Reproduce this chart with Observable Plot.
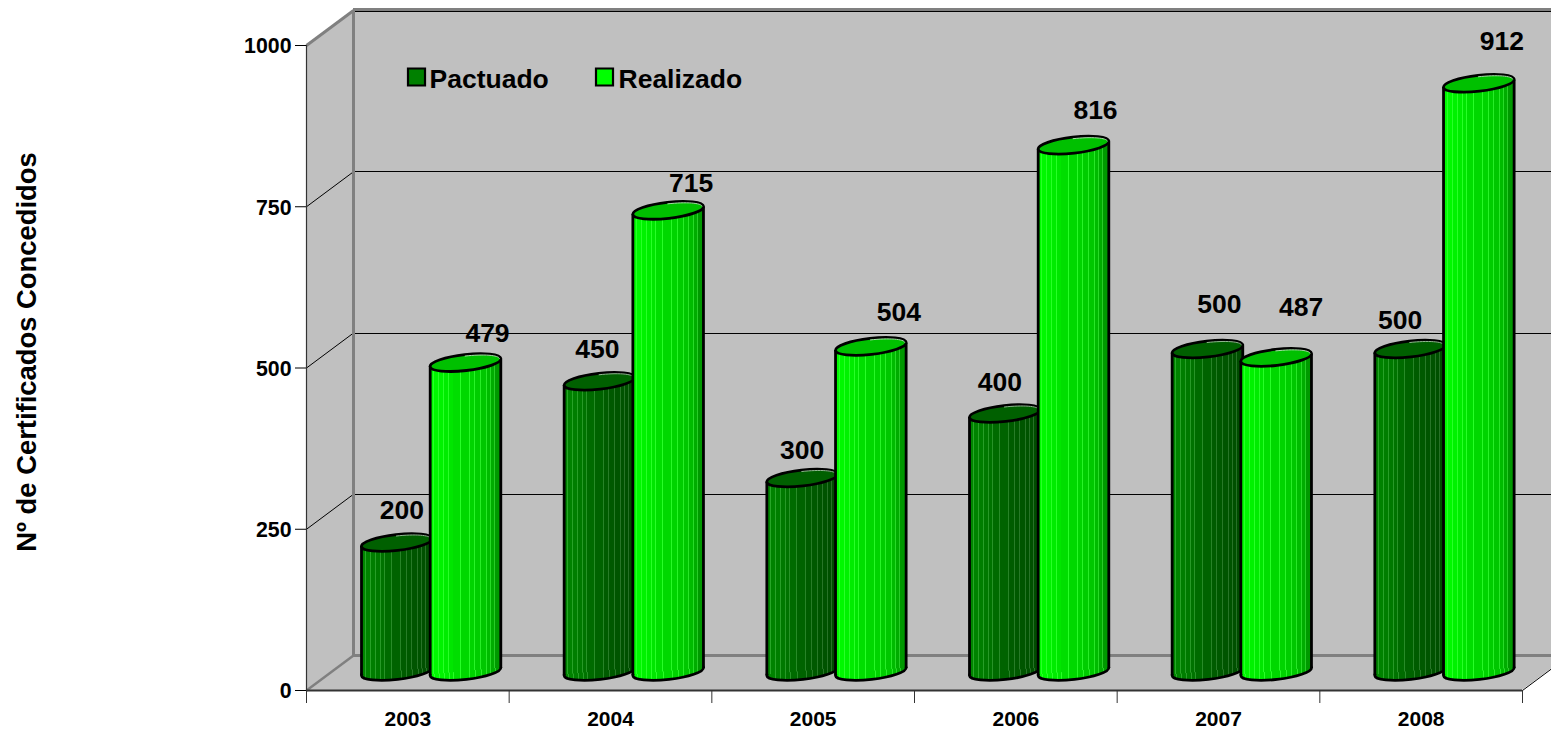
<!DOCTYPE html>
<html><head><meta charset="utf-8">
<script src="https://cdn.jsdelivr.net/npm/d3@7"></script>
<script src="https://cdn.jsdelivr.net/npm/@observablehq/plot@0.6"></script>
<style>html,body{margin:0;padding:0;background:#fff;overflow:hidden}svg{display:block}</style>
</head><body><div id="chart"></div>
<script>
const years = ["2003","2004","2005","2006","2007","2008"];
const pactuado = [200,450,300,400,500,500];
const realizado = [479,715,504,816,487,912];
const yTicks = [0,250,500,750,1000];
const yTitle = "Nº de Certificados Concedidos";
const seriesNames = ["Pactuado","Realizado"];
const pactLabelDx = [5,-2,0,-5,12,-10];
const pactLabelDy = [-32,-32,-27,-31,-44,-28];
const realLabelDx = [22,23,28,22,25,23];
const realLabelDy = [-29,-27,-34,-35,-50,-42];

const FONT = "'Liberation Sans', Arial, sans-serif";
const W = 1551, H = 731, L = 306, R = 1522, T = 45, B = 690;
const ux = (R - L) / years.length;       // px per category
const uy = (B - T) / 1000;               // px per value unit
const depthX = 47 / ux, depthY = 35 / uy;
const baseY = 19 / uy, tiltY = 3.5 / uy;
const halfW = 35.3 / ux;
const centers = [(55.3 + 35) / ux, (124 + 35) / ux];

const tilt = -6.5 * Math.PI / 180;
const c = Math.cos(tilt), s = Math.sin(tilt), k = 0.5523;
const rot = (x, y) => [x * c - y * s, x * s + y * c];
const ellipseSymbol = {draw(ctx, size) {
  const a = Math.sqrt(size / Math.PI), b = a * 0.225;
  ctx.moveTo(...rot(a, 0));
  ctx.bezierCurveTo(...rot(a, k * b), ...rot(k * a, b), ...rot(0, b));
  ctx.bezierCurveTo(...rot(-k * a, b), ...rot(-a, k * b), ...rot(-a, 0));
  ctx.bezierCurveTo(...rot(-a, -k * b), ...rot(-k * a, -b), ...rot(0, -b));
  ctx.bezierCurveTo(...rot(k * a, -b), ...rot(a, -k * b), ...rot(a, 0));
  ctx.closePath();
}};
// thin highlight along the upper right inside edge of a cylinder's top
const rimSymbol = {draw(ctx, size) {
  const a = Math.sqrt(size / Math.PI) * 0.96, b = a * 0.19;
  ctx.moveTo(...rot(0, -b));
  ctx.bezierCurveTo(...rot(k * a, -b), ...rot(a, -k * b), ...rot(a, 0));
}};

const stripeStops = [0.06,0.13,0.2,0.27,0.33,0.43,0.56,0.64,0.72,0.8,0.86,0.92];
function gradientDef(id, ramp) {
  const color = d3.piecewise(d3.interpolateRgb, ramp);
  const g = d3.create("svg:linearGradient").attr("id", id);
  const add = (o, col) => g.append("stop").attr("offset", o).attr("stop-color", col);
  let from = 0;
  for (const st of [...stripeStops, 1]) {
    const col = color((from + st) / 2);
    add(from, col); add(st - 0.007, col);
    if (st < 1) { const b = d3.rgb(col); b.r = 40; b.g = Math.min(255, b.g + 32); b.b = 40; const h = b.formatHex(); add(st - 0.007, h); add(st + 0.007, h); }
    from = st + 0.007;
  }
  return g.node();
}
const defs = () => {
  const d = d3.create("svg:defs");
  d.node().append(gradientDef("gPact", ["#008800","#007c00","#006a00","#005c00","#005400","#004c00"]));
  d.node().append(gradientDef("gReal", ["#00ff00","#00f000","#00dc00","#00d400","#00c400","#009000"]));
  return d.node();
};

function barMarks(values, si, gid, topFill, rimColor) {
  const rows = values.map((v, i) => ({i, v, cx: i + centers[si]}));
  const body = rows.flatMap(d => [
    {i: d.i, x: d.cx - halfW, y1: baseY - tiltY, y2: d.v + baseY - tiltY},
    {i: d.i, x: d.cx + halfW, y1: baseY + tiltY, y2: d.v + baseY + tiltY}
  ]);
  const fill = `url(#${gid})`;
  return [
    Plot.dot(rows, {x: "cx", y: () => baseY, r: 35.6, symbol: ellipseSymbol, fill, stroke: "#000", strokeWidth: 2.8}),
    Plot.areaY(body, {x: "x", y1: "y1", y2: "y2", z: "i", fill, stroke: "none", curve: "linear"}),
    Plot.link(rows, {x1: d => d.cx - halfW, x2: d => d.cx - halfW, y1: () => baseY - tiltY, y2: d => d.v + baseY - tiltY, stroke: "#000", strokeWidth: 2.8}),
    Plot.link(rows, {x1: d => d.cx + halfW, x2: d => d.cx + halfW, y1: () => baseY + tiltY, y2: d => d.v + baseY + tiltY, stroke: "#000", strokeWidth: 2.8}),
    Plot.dot(rows, {x: "cx", y: d => d.v + baseY, r: 35.6, symbol: ellipseSymbol, fill: topFill, stroke: "#000", strokeWidth: 2.8}),
    Plot.dot(rows, {x: "cx", y: d => d.v + baseY, r: 35.6, symbol: rimSymbol, fill: "none", stroke: rimColor, strokeWidth: 1}),
  ];
}
function labelMarks(values, si, labelDx, labelDy) {
  return values.map((v, i) => Plot.text([v], {
    x: () => i + centers[si], y: d => d + baseY, text: d => String(d),
    dx: labelDx[i], dy: labelDy[i], fontSize: 26.5, fontWeight: "bold", fill: "#000"
  }));
}

const n = years.length;
const far = n + 1;
const gridRules = [250,500,750].map(v => {
  const px = B - (v + depthY) * uy;
  return Plot.ruleY([v + depthY], {x1: depthX, x2: far, stroke: "#000", strokeWidth: 1, dy: Math.round(px) - px});
});
const chart = Plot.plot({
  width: W, height: H,
  marginLeft: L, marginRight: W - R, marginTop: T, marginBottom: H - B,
  style: {fontFamily: FONT, background: "#fff", color: "#000"},
  x: {type: "linear", domain: [0, n], axis: null},
  y: {type: "linear", domain: [0, 1000], axis: null},
  marks: [
    defs,
    // back wall, side wall, floor
    Plot.rect([0], {x1: depthX, x2: far, y1: depthY, y2: 1000 + depthY, fill: "#c0c0c0"}),
    Plot.areaY([{x: 0, a: 0, b: 1000}, {x: depthX, a: depthY, b: 1000 + depthY}], {x: "x", y1: "a", y2: "b", fill: "#c0c0c0"}),
    Plot.areaX([{y: 0, a: 0, b: n}, {y: depthY, a: depthX, b: n + depthX}], {y: "y", x1: "a", x2: "b", fill: "#c0c0c0"}),
    // grid lines
    ...gridRules,
    Plot.link([250,500,750], {x1: 0, y1: d => d, x2: depthX, y2: d => d + depthY, stroke: "#000", strokeWidth: 1}),
    // wall edges
    Plot.ruleY([1000 + depthY], {x1: depthX, x2: far, stroke: "#808080", strokeWidth: 3, dy: -1}),
    Plot.ruleY([1000 + depthY], {x1: depthX, x2: far, stroke: "#000", strokeWidth: 1, dy: 1}),
    Plot.ruleY([depthY], {x1: depthX, x2: far, stroke: "#808080", strokeWidth: 3}),
    Plot.ruleX([depthX], {y1: depthY, y2: 1000 + depthY, stroke: "#808080", strokeWidth: 3}),
    Plot.link([0], {x1: 0, y1: 1000, x2: depthX, y2: 1000 + depthY, stroke: "#808080", strokeWidth: 3}),
    Plot.link([0], {x1: 0, y1: 0, x2: depthX, y2: depthY, stroke: "#808080", strokeWidth: 2.5}),
    Plot.link([0], {x1: n, y1: 0, x2: n + depthX, y2: depthY, stroke: "#000", strokeWidth: 1}),
    // axes
    Plot.ruleY([0], {x1: 0, x2: n, stroke: "#333", strokeWidth: 2}),
    Plot.ruleX([0], {y1: 0, y2: 1000, stroke: "#333", strokeWidth: 1.2}),
    Plot.axisY({ticks: yTicks, tickSize: 11, tickFormat: () => "", label: null, stroke: "#000"}),
    Plot.axisY({ticks: yTicks, tickSize: 0, tickPadding: 15, dy: 1, fontSize: 21.3, fontWeight: "bold", label: null, tickFormat: d => String(d)}),
    Plot.axisX({ticks: d3.range(n + 1), tickSize: 13, tickFormat: () => "", label: null, stroke: "#333"}),
    Plot.axisX({ticks: years.map((y, i) => i + 0.5), tickSize: 0, tickPadding: 21, fontSize: 21, fontWeight: "bold", label: null,
      tickFormat: d => years[Math.floor(d)]}),
    Plot.text([yTitle], {frameAnchor: "left", textAnchor: "middle", rotate: -90, dx: -279, dy: -16, fontSize: 27.4, fontWeight: "bold", fill: "#000"}),
    // cylinders
    ...barMarks(pactuado, 0, "gPact", "#006000", "#8fb88f"),
    ...barMarks(realizado, 1, "gReal", "#00c000", "#a8e0a8"),
    ...labelMarks(pactuado, 0, pactLabelDx, pactLabelDy),
    ...labelMarks(realizado, 1, realLabelDx, realLabelDy),
    // legend
    Plot.dot([0], {frameAnchor: "top-left", dx: 110, dy: 31.5, symbol: "square", r: 9.6, fill: "#008000", stroke: "#000", strokeWidth: 2.2}),
    Plot.dot([0], {frameAnchor: "top-left", dx: 298, dy: 31.5, symbol: "square", r: 9.6, fill: "#00ff00", stroke: "#000", strokeWidth: 2.2}),
    Plot.text([seriesNames[0]], {frameAnchor: "top-left", dx: 123, dy: 24, textAnchor: "start", lineAnchor: "top", fontSize: 26.5, fontWeight: "bold", fill: "#000"}),
    Plot.text([seriesNames[1]], {frameAnchor: "top-left", dx: 312, dy: 24, textAnchor: "start", lineAnchor: "top", fontSize: 26.5, fontWeight: "bold", fill: "#000"}),
  ]
});
document.getElementById("chart").append(chart);
</script>
</body></html>
